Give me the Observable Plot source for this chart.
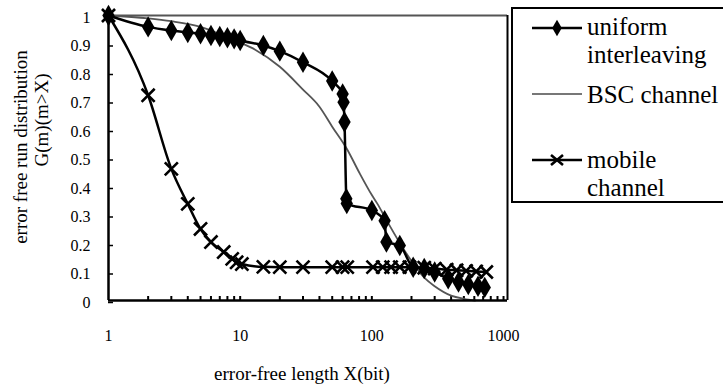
<!DOCTYPE html>
<html><head><meta charset="utf-8">
<script src="https://cdn.jsdelivr.net/npm/d3@7"></script>
<script src="https://cdn.jsdelivr.net/npm/@observablehq/plot@0.6"></script>
<style>
body{margin:0;background:#fff;}
#wrap{position:relative;width:723px;height:390px;overflow:hidden;font-family:"Liberation Serif","Times New Roman",serif;color:#000;}
#chart{position:absolute;left:0;top:0;}
.ttl{position:absolute;white-space:nowrap;font-size:19px;line-height:19px;font-family:"Liberation Serif","Times New Roman",serif;}
.rot{transform:translate(-50%,-50%) rotate(-90deg);}
#legend{position:absolute;left:511px;top:7px;width:220px;height:192px;border:2px solid #000;background:#fff;}
.lg{position:absolute;left:74px;font-size:25px;line-height:28px;height:28px;white-space:nowrap;font-family:"Liberation Serif","Times New Roman",serif;}
#lgsvg{position:absolute;left:0;top:0;}
</style></head><body>
<div id="wrap">
  <div id="chart"></div>
  <div class="ttl rot" style="left:20px;top:147px;">error free run distribution</div>
  <div class="ttl rot" style="left:41px;top:120px;">G(m)(m&gt;X)</div>
  <div class="ttl" style="left:302px;top:373px;transform:translate(-50%,-50%);">error-free length X(bit)</div>
  <div id="legend">
    <svg id="lgsvg" width="220" height="192"></svg>
    <div class="lg" style="top:4px;">uniform</div>
    <div class="lg" style="top:32px;">interleaving</div>
    <div class="lg" style="top:72px;">BSC channel</div>
    <div class="lg" style="top:137px;">mobile</div>
    <div class="lg" style="top:165px;">channel</div>
  </div>
</div>
<script>
// Series: uniform interleaving
const uniformX = [1, 2, 3, 4, 5, 6, 7, 8, 9, 10, 15, 20, 30, 50, 60, 61, 62, 64, 64.5, 100, 125, 129, 163, 206, 250, 300, 380, 455, 540, 640, 720];
const uniformY = [1, 0.96, 0.947, 0.94, 0.936, 0.93, 0.926, 0.922, 0.918, 0.912, 0.895, 0.875, 0.836, 0.77, 0.725, 0.696, 0.626, 0.357, 0.34, 0.316, 0.28, 0.205, 0.193, 0.117, 0.112, 0.1, 0.076, 0.065, 0.056, 0.05, 0.046];
// Series: BSC channel
const bscX = [1, 2, 3, 5, 7, 10, 13, 20, 30, 40, 50, 65, 80, 100, 110, 130, 180, 250, 300, 400, 500, 610];
const bscY = [1, 0.99, 0.98, 0.96, 0.935, 0.905, 0.88, 0.82, 0.74, 0.68, 0.61, 0.53, 0.45, 0.37, 0.34, 0.28, 0.17, 0.08, 0.05, 0.017, 0.006, 0];
// Series: mobile channel
const mobileX = [1, 2, 3, 4, 5, 6, 7.5, 8.7, 9.4, 10.3, 15, 20, 30, 50, 60, 65, 102, 121, 140, 163, 193, 250, 300, 370, 440, 520, 620, 740];
const mobileY = [1, 0.72, 0.462, 0.339, 0.251, 0.205, 0.17, 0.146, 0.134, 0.128, 0.118, 0.117, 0.117, 0.117, 0.117, 0.117, 0.117, 0.117, 0.117, 0.117, 0.117, 0.115, 0.112, 0.108, 0.106, 0.104, 0.102, 0.1];
// Axis ticks
const yTicks = [0, 0.1, 0.2, 0.3, 0.4, 0.5, 0.6, 0.7, 0.8, 0.9, 1];
const xLabelTicks = [1, 10, 100, 1000];
const xMinorTicks = [2,3,4,5,6,7,8,9,10,20,30,40,50,60,70,80,90,100,200,300,400,500,600,700,800,900,1000];
const xDomain = [1, 1072];

const rows = (xs, ys) => xs.map((x, i) => ({x, y: ys[i]}));
const uniform = rows(uniformX, uniformY);
const bsc = rows(bscX, bscY);
const mobile = rows(mobileX, mobileY);

const chart = Plot.plot({
  width: 723, height: 390,
  marginLeft: 108, marginRight: 216, marginTop: 15, marginBottom: 90,
  style: {fontFamily: "Liberation Serif, Times New Roman, serif", fontSize: "16px", background: "transparent", color: "#000"},
  x: {type: "log", domain: xDomain, label: null},
  y: {domain: [0, 1], label: null},
  marks: [
    Plot.ruleY([1], {stroke: "#555", strokeWidth: 2}),
    Plot.ruleX([xDomain[1]], {stroke: "#000", strokeWidth: 2}),
    Plot.axisY(yTicks, {tickSize: -5, tickPadding: 23, strokeWidth: 1.5, dy: 2, label: null, tickFormat: d => String(d)}),
    Plot.axisX(xMinorTicks, {tickSize: -4, tickPadding: 0, strokeWidth: 2, label: null, tickFormat: () => ""}),
    Plot.axisX(xLabelTicks, {tickSize: 0, tickPadding: 29, label: null, tickFormat: d => String(d)}),
    Plot.line(bsc, {x: "x", y: "y", curve: "monotone-x", stroke: "#555", strokeWidth: 1.8}),
    Plot.line(uniform, {x: "x", y: "y", curve: "monotone-x", stroke: "#000", strokeWidth: 2.5}),
    Plot.line(mobile, {x: "x", y: "y", curve: "monotone-x", stroke: "#000", strokeWidth: 2.5}),
    Plot.dot(uniform, {x: "x", y: "y", symbol: "diamond", fill: "#000", stroke: "none", r: 6.5}),
    Plot.dot(mobile, {x: "x", y: "y", symbol: "times", stroke: "#000", fill: "none", strokeWidth: 2.6, r: 6}),
    Plot.ruleX([xDomain[0]], {stroke: "#000", strokeWidth: 2.5}),
    Plot.ruleY([0], {stroke: "#000", strokeWidth: 2.5})
  ]
});
document.getElementById("chart").appendChild(chart);

// Legend swatches
const svg = d3.select("#lgsvg");
const rowsL = [
  {y: 19, type: "diamond", stroke: "#000", w: 2.5},
  {y: 85, type: "none", stroke: "#777", w: 1.8},
  {y: 151, type: "times", stroke: "#000", w: 2.5}
];
rowsL.forEach(r => {
  svg.append("line").attr("x1", 19).attr("x2", 69).attr("y1", r.y).attr("y2", r.y)
    .attr("stroke", r.stroke).attr("stroke-width", r.w);
  if (r.type === "diamond") {
    svg.append("path").attr("transform", `translate(44,${r.y})`)
      .attr("d", d3.symbol(d3.symbolDiamond, 80)()).attr("fill", "#000");
  } else if (r.type === "times") {
    svg.append("path").attr("transform", `translate(44,${r.y})`)
      .attr("d", "M-6,-5L6,5M-6,5L6,-5").attr("stroke", "#000").attr("stroke-width", 2.6).attr("fill", "none");
  }
});
</script>
</body></html>
